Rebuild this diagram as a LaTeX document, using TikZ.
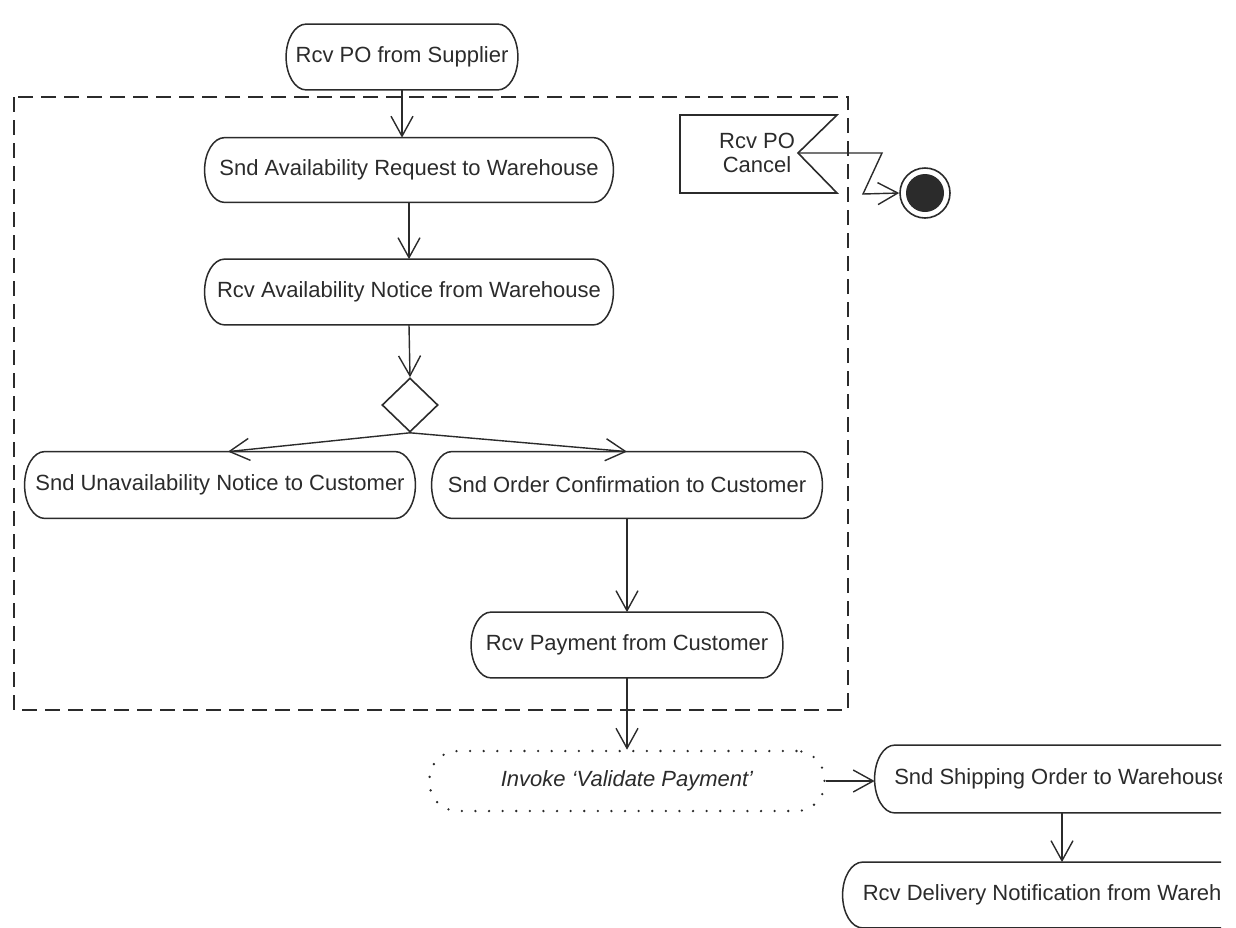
\documentclass[tikz,border=0pt]{standalone}
\usepackage{fontspec}
\setmainfont{Liberation Sans}
\usetikzlibrary{shapes.geometric,arrows.meta,calc}
\definecolor{ink}{HTML}{2B2B2B}
\tikzset{
  act/.style={rectangle, inner sep=0pt, text=ink, font=\fontsize{11}{13}\selectfont},
  actline/.style={draw=ink, line width=0.75pt},
  flow/.style={draw=ink, line width=0.7pt, -{Straight Barb[length=10pt,width=11pt,line width=0.7pt]}},
  region/.style={draw=ink, line width=0.8pt, dash pattern=on 7.5pt off 4pt},
  invoke/.style={draw=ink, line width=1.3pt, line cap=round, dash pattern=on 0pt off 6.8pt,
    rounded corners=14pt, inner sep=0pt, text=ink, font=\fontsize{11}{13}\selectfont\itshape},
  choice/.style={draw=ink, line width=0.8pt, diamond, inner sep=0pt, minimum width=28pt, minimum height=27pt},
}
% action outline: straight top and bottom, half-elliptic ends
\newcommand\actoutline[1]{%
  \draw[actline] let \p1=(#1.north west), \p2=(#1.south east), \n1={(\y1-\y2)/2} in
    ({\x1+10pt},\y1) -- ({\x2-10pt},\y1)
    arc[start angle=90, end angle=-90, x radius=10pt, y radius=\n1]
    -- ({\x1+10pt},\y2)
    arc[start angle=270, end angle=90, x radius=10pt, y radius=\n1] -- cycle;}
\begin{document}
\begin{tikzpicture}[x=0.5pt, y=-0.5pt]
\useasboundingbox (0,0) rectangle (1236,927);
\begin{scope}
\clip (0,0) rectangle (1221,927);

% interruptible region
\draw[region] (14,97) rectangle (848,710);

% actions
\node[act, minimum width=115.5pt, minimum height=32.5pt] (sup) at (402,57) {Rcv PO from Supplier};
\node[act, minimum width=204pt, minimum height=32pt] (req) at (409,170) {Snd Availability Request to Warehouse};
\node[act, minimum width=204pt, minimum height=32.5pt] (notice) at (409,292) {Rcv Availability Notice from Warehouse};
\node[choice] (dec) at (410,405) {};
\node[act, minimum width=195pt, minimum height=33pt] (unav) at (220,485) {Snd Unavailability Notice to Customer};
\node[act, minimum width=195pt, minimum height=33pt] (conf) at (627,485) {Snd Order Confirmation to Customer};
\node[act, minimum width=155.5pt, minimum height=32.5pt] (pay) at (627,645) {Rcv Payment from Customer};
\node[invoke, minimum width=197.5pt, minimum height=30pt] (inv) at (627,781) {Invoke ‘Validate Payment’};
\node[act, minimum width=187pt, minimum height=33.5pt] (ship) at (1062,779) {Snd Shipping Order to Warehouse};
\node[act, minimum width=223pt, minimum height=32.5pt] (deliv) at (1066,895) {Rcv Delivery Notification from Warehouse};

\foreach \a in {sup,req,notice,unav,conf,pay,ship,deliv} {\actoutline{\a}}

% accept-event signal
\coordinate (c1) at (680,115);
\coordinate (c2) at (837,115);
\coordinate (notch) at (798,153);
\coordinate (c4) at (837,193);
\coordinate (c5) at (680,193);
\draw[draw=ink, line width=0.8pt] (c1) -- (c2) -- (notch) -- (c4) -- (c5) -- cycle;
\node[text=ink, font=\fontsize{11}{12}\selectfont, align=center] (cancel) at (757,153) {Rcv PO\\Cancel};

% flow final node
\node[circle, draw=ink, line width=0.8pt, minimum size=25pt, inner sep=0pt] (final) at (925,193) {};
\fill[ink] (final.center) circle (9.5pt);

% interrupting edge
\coordinate (z1) at (882,153);
\coordinate (z2) at (863,194);
\draw[flow] (notch) -- (z1) -- (z2) -- (final.west);

% control flows
\draw[flow] (sup.south) -- (sup.south |- req.north);
\draw[flow] (req.south) -- (notice.north);
\draw[flow] (notice.south) -- (dec.north);
\draw[flow] (dec.south) -- ([xshift=4pt]unav.north);
\draw[flow] (dec.south) -- (conf.north);
\draw[flow] (conf.south) -- (pay.north);
\draw[flow] (pay.south) -- (inv.north);
\draw[flow] (inv.east) -- (ship.west |- inv.east);
\draw[flow] (ship.south) -- (ship.south |- deliv.north);
\end{scope}
\end{tikzpicture}
\end{document}
